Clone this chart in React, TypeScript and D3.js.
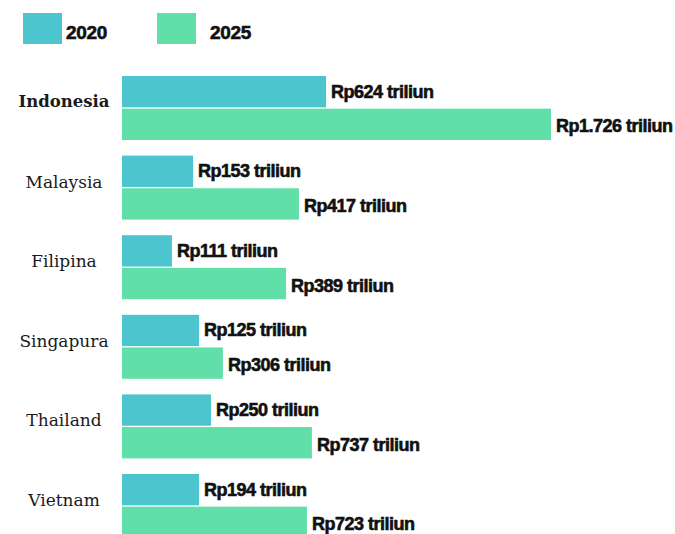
import React from "react";
import * as d3 from "d3";

// Countries and printed figures (Rp trillion)
const countries = ["Indonesia", "Malaysia", "Filipina", "Singapura", "Thailand", "Vietnam"];
const labels2020 = ["Rp624 triliun", "Rp153 triliun", "Rp111 triliun", "Rp125 triliun", "Rp250 triliun", "Rp194 triliun"];
const labels2025 = ["Rp1.726 triliun", "Rp417 triliun", "Rp389 triliun", "Rp306 triliun", "Rp737 triliun", "Rp723 triliun"];
const values2020 = [624, 153, 111, 125, 250, 194];
const values2025 = [1726, 417, 389, 306, 737, 723];
// The infographic's bars are not drawn in proportion to the printed figures;
// these are the bar lengths, in the same units (Indonesia 2025 = 1726).
const drawn2020 = [821, 286, 201, 310, 358, 310];
const drawn2025 = [1726, 712, 660, 406, 764, 744];
const years = ["2020", "2025"];
const colors = ["#4cc5cf", "#60dfa9"];

const W = 675;
const H = 534;

export default function App() {
  const x = d3.scaleLinear().domain([0, 1726]).range([122, 551]);
  const y = d3
    .scaleBand<string>()
    .domain(countries)
    .range([76, 538])
    .paddingInner(0.196)
    .paddingOuter(0);
  const yy = d3.scaleBand<string>().domain(years).range([0, y.bandwidth()]).paddingInner(0.04);

  const labelFont = "'Liberation Sans', Arial, sans-serif";
  const catFont = "'DejaVu Serif', 'Liberation Serif', serif";

  return (
    <svg
      width={W}
      height={H}
      style={{ position: "absolute", left: 0, top: 0, background: "#fff" }}
    >
      {/* legend */}
      {years.map((yr, i) => {
        const lx = i === 0 ? 23 : 157;
        return (
          <g key={yr}>
            <rect x={lx} y={13} width={39} height={31} fill={colors[i]} />
            <text
              x={i === 0 ? 66 : 210}
              y={39}
              fontFamily={labelFont}
              fontWeight={700}
              fontSize={19}
              letterSpacing={-0.3}
              stroke="#111"
              strokeWidth={0.6}
              fill="#111"
            >
              {yr}
            </text>
          </g>
        );
      })}

      {countries.map((c, i) => {
        const gy = y(c)!;
        const series = [
          { v: values2020[i], d: drawn2020[i], label: labels2020[i] },
          { v: values2025[i], d: drawn2025[i], label: labels2025[i] },
        ];
        return (
          <g key={c}>
            <text
              x={64}
              y={gy + y.bandwidth() / 2 - 6}
              textAnchor="middle"
              dominantBaseline="central"
              fontFamily={catFont}
              fontWeight={i === 0 ? 700 : 400}
              fontSize={i === 0 ? 16.5 : 17}
              fill="#1a1a1a"
            >
              {c}
            </text>
            {series.map((s, j) => {
              const by = gy + yy(years[j])!;
              const end = x(s.d);
              return (
                <g key={j} data-value={s.v}>
                  <rect
                    x={x(0)}
                    y={by}
                    width={end - x(0)}
                    height={yy.bandwidth()}
                    fill={colors[j]}
                  />
                  <text
                    x={end + 5}
                    y={by + yy.bandwidth() / 2 + (j === 0 ? 0 : 2)}
                    dominantBaseline="central"
                    fontFamily={labelFont}
                    fontWeight={700}
                    fontSize={18}
                    letterSpacing={-0.5}
                    stroke="#111"
                    strokeWidth={0.6}
                    fill="#111"
                  >
                    {s.label}
                  </text>
                </g>
              );
            })}
          </g>
        );
      })}
    </svg>
  );
}
